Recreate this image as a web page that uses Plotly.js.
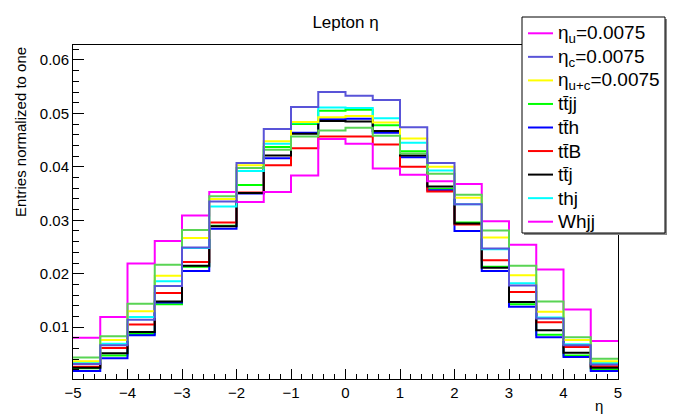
<!DOCTYPE html>
<html>
<head>
<meta charset="utf-8">
<script src="https://cdn.plot.ly/plotly-3.0.1.min.js"></script>
<style>html,body{margin:0;padding:0;background:#fff;}#chart{width:680px;height:416px;}</style>
</head>
<body>
<div id="chart"></div>
<script>
// Bin edges of the eta histograms (20 bins from -5 to 5)
var binEdges = [-5,-4.5,-4,-3.5,-3,-2.5,-2,-1.5,-1,-0.5,0,0.5,1,1.5,2,2.5,3,3.5,4,4.5,5];

// Series values (entries normalized to one), one per bin
var etaU  = [0.0043,0.0083,0.0144,0.0217,0.0282,0.0345,0.0398,0.0432,0.0457,0.0468,0.0473,0.0458,0.0425,0.0387,0.0348,0.0281,0.0215,0.0148,0.0081,0.0041];
var etaC  = [0.0031,0.0066,0.0114,0.0177,0.0249,0.0335,0.0407,0.0471,0.0512,0.0540,0.0533,0.0525,0.0474,0.0407,0.0330,0.0247,0.0178,0.0116,0.0066,0.0030];
var etaUC = [0.0036,0.0076,0.0130,0.0196,0.0267,0.0340,0.0403,0.0448,0.0484,0.0493,0.0495,0.0483,0.0453,0.0400,0.0342,0.0268,0.0197,0.0129,0.0076,0.0036];
var ttjj  = [0.0023,0.0047,0.0087,0.0143,0.0213,0.0290,0.0366,0.0437,0.0480,0.0505,0.0507,0.0478,0.0429,0.0359,0.0296,0.0213,0.0143,0.0086,0.0047,0.0021];
var tth   = [0.0018,0.0042,0.0085,0.0146,0.0205,0.0284,0.0350,0.0416,0.0464,0.0489,0.0490,0.0464,0.0418,0.0356,0.0280,0.0205,0.0138,0.0081,0.0044,0.0018];
var ttB   = [0.0026,0.0061,0.0105,0.0164,0.0222,0.0296,0.0352,0.0403,0.0435,0.0457,0.0457,0.0442,0.0400,0.0354,0.0292,0.0225,0.0166,0.0109,0.0063,0.0027];
var ttj   = [0.0024,0.0051,0.0091,0.0148,0.0215,0.0289,0.0351,0.0421,0.0462,0.0486,0.0485,0.0467,0.0421,0.0363,0.0294,0.0211,0.0147,0.0094,0.0052,0.0024];
var thj   = [0.0034,0.0069,0.0119,0.0186,0.0248,0.0326,0.0392,0.0443,0.0483,0.0511,0.0510,0.0491,0.0445,0.0393,0.0330,0.0246,0.0182,0.0118,0.0068,0.0033];
var whjj  = [0.0080,0.0119,0.0219,0.0261,0.0309,0.0353,0.0334,0.0353,0.0384,0.0452,0.0443,0.0397,0.0385,0.0373,0.0368,0.0298,0.0254,0.0208,0.0133,0.0074];

// Legend entries (as shown in the reference legend)
var legendLabels = ["η<sub>u</sub>=0.0075","η<sub>c</sub>=0.0075","η<sub>u+c</sub>=0.0075","tt̄jj","tt̄h","tt̄B","tt̄j","thj","Whjj"];
var legendColors = ["#ff00ff","#5954d8","#ffff00","#00ff00","#0000ff","#ff0000","#000000","#00ffff","#ff00ff"];

function stepTrace(vals, color){
  return {
    x: binEdges,
    y: vals.concat([vals[vals.length-1]]),
    type: 'scatter', mode: 'lines',
    line: {shape: 'hv', color: color, width: 2},
    showlegend: false, hoverinfo: 'skip'
  };
}

var traces = [
  stepTrace(ttjj, "#00ff00"),
  stepTrace(tth, "#0000ff"),
  stepTrace(ttB, "#ff0000"),
  stepTrace(ttj, "#000000"),
  stepTrace(thj, "#00ffff"),
  stepTrace(whjj, "#ff00ff"),
  stepTrace(etaUC, "#ffff00"),
  stepTrace(etaU, "#59d454"),
  stepTrace(etaC, "#5954d8")
];

// Plot area geometry in pixels (for placing the legend box)
var W = 680, H = 416, ML = 73, MR = 62, MT = 45, MB = 37;
var PW = W - ML - MR, PH = H - MT - MB;
function px(x){ return (x - ML) / PW; }
function py(y){ return (H - MB - y) / PH; }

var font = "Liberation Sans, Arial, Helvetica, sans-serif";
var shapes = [
  {type:'rect', xref:'paper', yref:'paper', x0:px(524), x1:px(667), y0:py(235), y1:py(19),
   fillcolor:'#888', line:{width:0}, layer:'above'},
  {type:'rect', xref:'paper', yref:'paper', x0:px(522), x1:px(665), y0:py(233), y1:py(17),
   fillcolor:'#fff', line:{color:'#000', width:1}, layer:'above'}
];
var annotations = [
  {text: 'η', xref: 'paper', yref: 'paper', x: px(599), y: py(405), showarrow: false,
   xanchor: 'center', yanchor: 'middle', font: {family: font, size: 15, color: '#000'}},
  {text: 'Entries normalized to one', xref: 'paper', yref: 'paper', x: px(20), y: py(45),
   textangle: -90, showarrow: false, xanchor: 'center', yanchor: 'top',
   font: {family: font, size: 15, color: '#000'}}
];
for (var i = 0; i < legendLabels.length; i++) {
  var yc = 33.3 + i * 23.55;
  shapes.push({type:'line', xref:'paper', yref:'paper', x0:px(528), x1:px(553), y0:py(yc), y1:py(yc),
    line:{color: legendColors[i], width:2}, layer:'above'});
  annotations.push({text: legendLabels[i], xref:'paper', yref:'paper', x:px(556), y:py(yc + (i < 3 ? 1 : 0)),
    xanchor:'left', yanchor:'middle', showarrow:false, font:{family: font, size: 19, color:'#000'}});
}

var layout = {
  width: W, height: H,
  margin: {l: ML, r: MR, t: MT, b: MB, pad: 0},
  paper_bgcolor: '#fff', plot_bgcolor: '#fff',
  font: {family: font, size: 15, color: '#000'},
  title: {text: 'Lepton η', font: {family: font, size: 17, color: '#000'}, x: 0.5, xref: 'paper',
          y: 1 - 22/416, yref: 'container', yanchor: 'middle'},
  xaxis: {
    range: [-5, 5], showgrid: false, zeroline: false,
    showline: true, linecolor: '#000', linewidth: 1, mirror: true,
    ticks: 'inside', ticklen: 10, tickcolor: '#000', tickwidth: 1,
    dtick: 1, tick0: 0,
    minor: {ticks: 'inside', ticklen: 5, dtick: 0.2, tickcolor: '#000', showgrid: false},
    tickfont: {family: font, size: 15, color: '#000'}
  },
  yaxis: {
    range: [0.0003, 0.0628], showgrid: false, zeroline: false,
    showline: true, linecolor: '#000', linewidth: 1, mirror: true,
    ticks: 'inside', ticklen: 11, tickcolor: '#000', tickwidth: 1,
    dtick: 0.01, tick0: 0, tickformat: '.2f',
    minor: {ticks: 'inside', ticklen: 6, dtick: 0.002, tickcolor: '#000', showgrid: false},
    tickfont: {family: font, size: 15, color: '#000'}
  },
  showlegend: false,
  shapes: shapes,
  annotations: annotations
};

Plotly.newPlot('chart', traces, layout, {displayModeBar: false, staticPlot: true});
</script>
</body>
</html>
